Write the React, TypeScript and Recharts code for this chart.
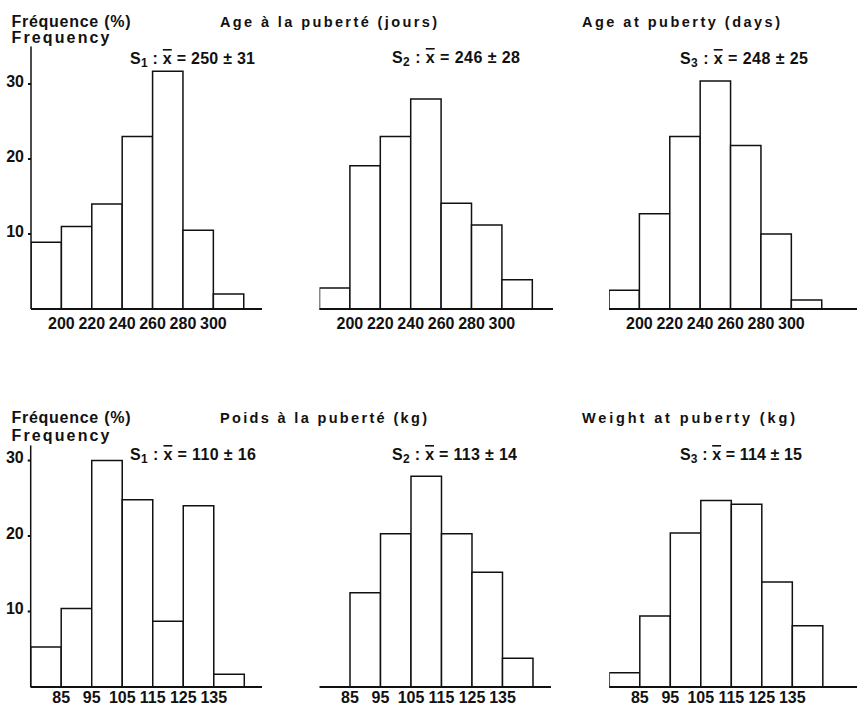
import React from "react";
import { BarChart, Bar, XAxis, YAxis } from "recharts";

// age at puberty, bins of 20 days (centres), % of animals
const AGE_BINS = [190, 210, 230, 250, 270, 290, 310];
const AGE_TICKS = [200, 220, 240, 260, 280, 300];
const AGE_S1 = [8.9, 11.0, 14.0, 23.0, 31.7, 10.5, 2.0];
const AGE_S2 = [2.8, 19.1, 23.0, 28.0, 14.1, 11.2, 3.9];
const AGE_S3 = [2.5, 12.7, 23.0, 30.4, 21.8, 10.0, 1.2];
const AGE_MEAN = [250, 246, 248];
const AGE_SD = [31, 28, 25];

// weight at puberty, bins of 10 kg (centres)
const WEIGHT_BINS = [80, 90, 100, 110, 120, 130, 140];
const WEIGHT_TICKS = [85, 95, 105, 115, 125, 135];
const WEIGHT_S1 = [5.3, 10.4, 30.0, 24.8, 8.7, 24.0, 1.7];
const WEIGHT_S2 = [0, 12.5, 20.3, 27.9, 20.3, 15.2, 3.8];
const WEIGHT_S3 = [1.9, 9.4, 20.4, 24.7, 24.2, 13.9, 8.1];
const WEIGHT_MEAN = [110, 113, 114];
const WEIGHT_SD = [16, 14, 15];

const FREQ_TICKS = [10, 20, 30];

const INK = "#111";
const NARROW = '"Liberation Sans Narrow", "Liberation Sans", Arial, sans-serif';
const SANS = '"Liberation Sans", Arial, sans-serif';

type PanelProps = {
  left: number;
  top: number;
  width: number;
  height: number;
  plotLeft: number;
  plotRight: number;
  plotTop: number;
  baseline: number;
  bins: number[];
  values: number[];
  ticks: number[];
  binWidth: number;
  xMin: number;
  xMax: number;
  yMax: number;
  showY: boolean;
  tickGap: number;
};

function Panel(p: PanelProps) {
  const data = p.bins.map((x, i) => ({ x, v: p.values[i] }));
  const innerLeft = p.plotLeft - p.left;
  const innerRight = p.left + p.width - p.plotRight;
  const barSize = (p.binWidth * (p.plotRight - p.plotLeft)) / (p.xMax - p.xMin) - 0.01;
  const tickFont = { fill: INK, fontSize: 16, fontWeight: 700, fontFamily: NARROW };
  return (
    <div style={{ position: "absolute", left: p.left, top: p.top }}>
      <BarChart
        width={p.width}
        height={p.height}
        data={data}
        barSize={barSize}
        margin={{ top: p.plotTop - p.top, right: innerRight, bottom: 0, left: p.showY ? 0 : innerLeft }}
      >
        <XAxis
          dataKey="x"
          type="number"
          domain={[p.xMin, p.xMax]}
          ticks={p.ticks}
          interval={0}
          allowDataOverflow
          height={p.top + p.height - p.baseline}
          tickSize={0}
          tickLine={false}
          tickMargin={p.tickGap}
          axisLine={{ stroke: INK, strokeWidth: 2 }}
          tick={tickFont}
        />
        <YAxis
          type="number"
          domain={[0, p.yMax]}
          ticks={FREQ_TICKS}
          hide={!p.showY}
          width={innerLeft}
          tickSize={3}
          tickMargin={4}
          tickLine={{ stroke: INK, strokeWidth: 2 }}
          axisLine={{ stroke: INK, strokeWidth: 1.5 }}
          tick={{ ...tickFont, dy: -3 }}
        />
        <Bar dataKey="v" fill="#fff" stroke={INK} strokeWidth={1.5} isAnimationActive={false} />
      </BarChart>
    </div>
  );
}

function Stat({ x, y, w, n, mean, sd }: { x: number; y: number; w: number; n: number; mean: number; sd: number }) {
  return (
    <text x={x} y={y} textLength={w} lengthAdjust="spacing" fill={INK} fontSize={16} fontWeight={700} fontFamily={NARROW}>
      S
      <tspan dy={3} fontSize={12}>{n}</tspan>
      <tspan dy={-3}>{" : "}</tspan>
      <tspan textDecoration="overline">x</tspan>
      {` = ${mean} ± ${sd}`}
    </text>
  );
}

function Title({ x, y, w, size = 14.5, children }: { x: number; y: number; w: number; size?: number; children: React.ReactNode }) {
  return (
    <text x={x} y={y} textLength={w} lengthAdjust="spacing" fill={INK} fontSize={size} fontWeight={700} fontFamily={SANS}>
      {children}
    </text>
  );
}

export default function App() {
  const topRow = { top: 0, height: 335, plotTop: 46.5, baseline: 309, yMax: 35, tickGap: 9 };
  const botRow = { top: 370, height: 336, plotTop: 445.4, baseline: 687, yMax: 32, tickGap: 5 };
  const ageCommon = { bins: AGE_BINS, ticks: AGE_TICKS, binWidth: 20, xMin: 180 };
  const wCommon = { bins: WEIGHT_BINS, ticks: WEIGHT_TICKS, binWidth: 10, xMin: 75 };

  return (
    <div style={{ position: "absolute", left: 0, top: 0, width: 857, height: 706, background: "#fff", overflow: "hidden" }}>
      <Panel {...topRow} {...ageCommon} values={AGE_S1} left={0} width={280} plotLeft={31} plotRight={262} xMax={332} showY />
      <Panel {...topRow} {...ageCommon} values={AGE_S2} left={280} width={280} plotLeft={319.5} plotRight={553} xMax={333.6} showY={false} />
      <Panel {...topRow} {...ageCommon} values={AGE_S3} left={560} width={297} plotLeft={609} plotRight={857} xMax={343.2} showY={false} />
      <Panel {...botRow} {...wCommon} values={WEIGHT_S1} left={0} width={280} plotLeft={30.7} plotRight={262} xMax={150.8} showY />
      <Panel {...botRow} {...wCommon} values={WEIGHT_S2} left={280} width={280} plotLeft={319.5} plotRight={551} xMax={150.9} showY={false} />
      <Panel {...botRow} {...wCommon} values={WEIGHT_S3} left={560} width={297} plotLeft={609.3} plotRight={857} xMax={156.2} showY={false} />

      <svg width={857} height={706} style={{ position: "absolute", left: 0, top: 0, pointerEvents: "none" }}>
        <Title x={11.5} y={27} w={119} size={16}>Fréquence (%)</Title>
        <Title x={11.5} y={43} w={98} size={16}>Frequency</Title>
        <Title x={220} y={27} w={217}>Age à la puberté (jours)</Title>
        <Title x={582} y={27} w={198}>Age at puberty (days)</Title>
        <Stat x={130} y={64} w={125} n={1} mean={AGE_MEAN[0]} sd={AGE_SD[0]} />
        <Stat x={392} y={63} w={128} n={2} mean={AGE_MEAN[1]} sd={AGE_SD[1]} />
        <Stat x={680} y={64} w={128} n={3} mean={AGE_MEAN[2]} sd={AGE_SD[2]} />

        <Title x={11.5} y={423} w={119} size={16}>Fréquence (%)</Title>
        <Title x={11.5} y={441} w={98} size={16}>Frequency</Title>
        <Title x={220} y={423} w={207}>Poids à la puberté (kg)</Title>
        <Title x={582} y={423} w={213}>Weight at puberty (kg)</Title>
        <Stat x={130} y={460} w={126} n={1} mean={WEIGHT_MEAN[0]} sd={WEIGHT_SD[0]} />
        <Stat x={392} y={460} w={125} n={2} mean={WEIGHT_MEAN[1]} sd={WEIGHT_SD[1]} />
        <Stat x={680} y={460} w={122} n={3} mean={WEIGHT_MEAN[2]} sd={WEIGHT_SD[2]} />
      </svg>
    </div>
  );
}
